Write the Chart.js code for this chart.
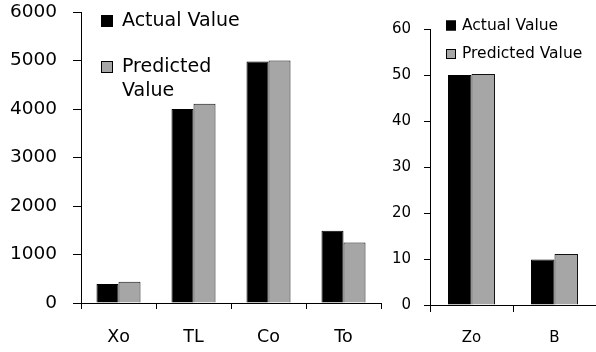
<!DOCTYPE html>
<html><head><meta charset="utf-8">
<script src="https://cdn.jsdelivr.net/npm/chart.js@4.4.1/dist/chart.umd.min.js"></script>
<style>
html,body{margin:0;padding:0;background:#fff;width:596px;height:352px;overflow:hidden}
#left{position:absolute;left:0;top:0;width:390px;height:352px}
#right{position:absolute;left:390px;top:0;width:206px;height:352px}
</style></head><body>
<div id="left"><canvas id="c1"></canvas></div>
<div id="right"><canvas id="c2"></canvas></div>
<script>
// Series and categories
const seriesNames = ['Actual Value', 'Predicted Value'];
const leftCategories = ['Xo', 'TL', 'Co', 'To'];
const leftActual = [390, 4000, 4980, 1490];
const leftPredicted = [440, 4110, 5000, 1250];
const leftTickStep = 1000;
const leftMax = 6000;
const rightCategories = ['Zo', 'B'];
const rightActual = [50, 9.9];
const rightPredicted = [50.2, 11.1];
const rightTickStep = 10;
const rightMax = 60;

const FONT = '"DejaVu Sans", Verdana, sans-serif';
const actualColor = '#000000';
const predictedColor = '#a6a6a6';

// Boxed legend drawn inside the plot, wrapping long labels
const boxLegend = {
  id: 'boxLegend',
  afterDraw(chart, args, o) {
    const ctx = chart.ctx;
    ctx.save();
    ctx.font = o.fontSize + 'px ' + FONT;
    ctx.textBaseline = 'middle';
    ctx.textAlign = 'left';
    chart.data.datasets.forEach((ds, i) => {
      const y = o.y + i * o.rowGap;
      ctx.fillStyle = ds.backgroundColor;
      ctx.fillRect(o.x, y - o.box / 2, o.box, o.box);
      ctx.strokeStyle = '#000';
      ctx.lineWidth = 1;
      ctx.strokeRect(o.x + 0.5, y - o.box / 2 + 0.5, o.box - 1, o.box - 1);
      const words = ds.label.split(' ');
      const lines = [];
      let cur = '';
      words.forEach(w => {
        const t = cur ? cur + ' ' + w : w;
        if (cur && ctx.measureText(t).width > o.maxWidth) { lines.push(cur); cur = w; }
        else cur = t;
      });
      lines.push(cur);
      ctx.fillStyle = '#000';
      lines.forEach((ln, k) => ctx.fillText(ln, o.x + o.box + o.gap, y + k * o.lineHeight));
    });
    ctx.restore();
  }
};

function makeChart(id, cats, a, p, step, max, cfg) {
  return new Chart(document.getElementById(id), {
    type: 'bar',
    data: {
      labels: cats,
      datasets: [
        { label: seriesNames[0], data: a, backgroundColor: actualColor, borderColor: '#000', borderWidth: 1 },
        { label: seriesNames[1], data: p, backgroundColor: predictedColor, borderColor: '#111', borderWidth: 1 }
      ]
    },
    options: {
      responsive: true,
      maintainAspectRatio: false,
      animation: false,
      devicePixelRatio: 1,
      layout: { padding: { top: cfg.top, right: cfg.right, left: 0, bottom: 0 } },
      datasets: { bar: { barPercentage: 1, categoryPercentage: cfg.catPct } },
      plugins: {
        legend: { display: false },
        tooltip: { enabled: false },
        boxLegend: cfg.legend
      },
      scales: {
        x: {
          grid: { display: true, drawOnChartArea: false, drawTicks: true, tickLength: cfg.xTick, color: '#000', offset: true },
          border: { display: true, color: '#000', width: 1 },
          ticks: { color: '#000', font: { family: FONT, size: cfg.font }, padding: cfg.xPad, maxRotation: 0 },
          afterFit(s) { s.height = cfg.xHeight; }
        },
        y: {
          min: 0, max: max,
          grid: { display: true, drawOnChartArea: false, drawTicks: true, tickLength: cfg.yTick, color: '#000' },
          border: { display: true, color: '#000', width: 1 },
          ticks: { stepSize: step, color: '#000', font: { family: FONT, size: cfg.yFont }, padding: cfg.yPad,
                   callback: v => String(v) },
          // fixed axis width; the top/bottom label overhang stays within the layout padding
          afterFit(s) { s.width = cfg.yWidth; s.paddingTop = 0; s.paddingBottom = 0; }
        }
      }
    },
    plugins: [boxLegend]
  });
}

makeChart('c1', leftCategories, leftActual, leftPredicted, leftTickStep, leftMax, {
  top: 12, right: 9, catPct: 0.587, font: 17.5, yFont: 18.5, xTick: 6, xPad: 18, xHeight: 49, yTick: 8, yPad: 16, yWidth: 81,
  legend: { x: 101, y: 21, box: 12, gap: 9, rowGap: 46, lineHeight: 24, fontSize: 19, maxWidth: 125 }
});

makeChart('c2', rightCategories, rightActual, rightPredicted, rightTickStep, rightMax, {
  top: 29, right: 0, catPct: 0.566, font: 15, yFont: 15, xTick: 7, xPad: 17, xHeight: 47, yTick: 6, yPad: 13, yWidth: 40,
  legend: { x: 56, y: 25.5, box: 10, gap: 6, rowGap: 28.5, lineHeight: 20, fontSize: 15.5, maxWidth: 200 }
});
</script>
</body></html>
